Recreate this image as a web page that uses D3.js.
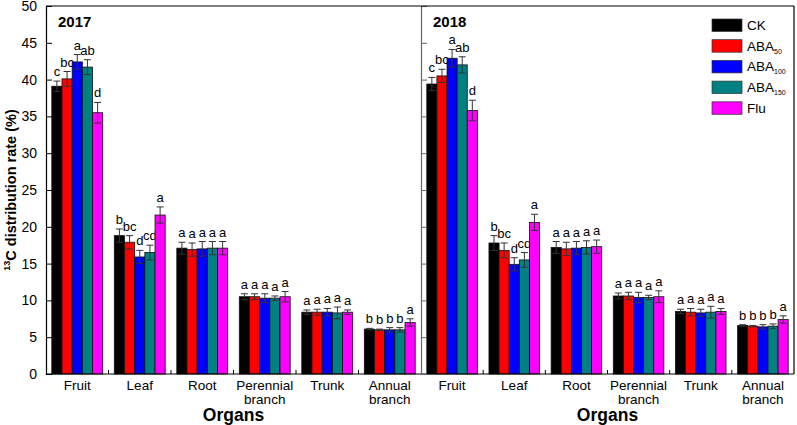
<!DOCTYPE html>
<html><head><meta charset="utf-8">
<script src="https://cdn.jsdelivr.net/npm/d3@7"></script>
<style>body{margin:0;background:#fff}svg{display:block;font-family:"Liberation Sans",Arial,sans-serif}</style>
</head><body><svg id="c" width="797" height="425"></svg>
<script>
const organs = ["Fruit","Leaf","Root","Perennial branch","Trunk","Annual branch"];
const treatments = ["CK","ABA50","ABA100","ABA150","Flu"];
const colors = ["#000000","#ff0000","#0000ff","#008080","#ff00ff"];
const yTicks = [0,5,10,15,20,25,30,35,40,45,50];
const years = ["2017","2018"];
// values [organ][treatment]
const v2017 = [[39.1,40.1,42.4,41.7,35.5],[18.8,17.9,15.9,16.5,21.6],[17.1,16.9,17.0,17.1,17.1],[10.5,10.5,10.3,10.3,10.5],[8.4,8.4,8.4,8.3,8.4],[6.1,6.0,6.0,6.0,7.0]];
const e2017 = [[0.7,1.0,1.0,1.0,1.4],[0.9,0.9,0.9,1.0,1.1],[0.8,0.9,1.0,0.9,0.9],[0.4,0.4,0.6,0.3,0.7],[0.3,0.4,0.5,0.8,0.3],[0.1,0.1,0.3,0.3,0.5]];
const l2017 = [["c","bc","a","ab","d"],["b","bc","d","cd","a"],["a","a","a","a","a"],["a","a","a","a","a"],["a","a","a","a","a"],["b","b","b","b","a"]];
const v2018 = [[39.4,40.5,42.9,42.0,35.8],[17.8,16.8,14.9,15.5,20.6],[17.2,17.0,17.1,17.2,17.3],[10.6,10.6,10.4,10.4,10.5],[8.5,8.4,8.3,8.4,8.5],[6.6,6.5,6.4,6.5,7.4]];
const e2018 = [[0.9,0.9,1.2,1.1,1.4],[1.0,1.0,0.9,1.0,1.1],[0.8,0.9,0.9,0.9,0.9],[0.4,0.5,0.7,0.3,0.8],[0.3,0.5,0.5,0.8,0.4],[0.1,0.1,0.3,0.3,0.5]];
const l2018 = [["c","bc","a","ab","d"],["b","bc","d","cd","a"],["a","a","a","a","a"],["a","a","a","a","a"],["a","a","a","a","a"],["b","b","b","b","a"]];

(function(){
const svg = d3.select("#c");
const yTop = 6, yBot = 374, xL = 46, xM = 421, xR = 794;
const y = d3.scaleLinear().domain([0,50]).range([yBot, yTop]);

const panels = [
  {year: years[0], vals: v2017, errs: e2017, lets: l2017, x0: xL, x1: xM},
  {year: years[1], vals: v2018, errs: e2018, lets: l2018, x0: xM, x1: xR}
];

panels.forEach((p) => {
  const xo = d3.scaleBand().domain(organs).range([p.x0, p.x1]).padding(0);
  const bw = xo.bandwidth();
  const xi = d3.scaleBand().domain(treatments).range([5.8, bw - 5.8]).padding(0);
  const g = svg.append("g");
  organs.forEach((o, oi) => {
    treatments.forEach((t, ti) => {
      const val = p.vals[oi][ti], err = p.errs[oi][ti];
      const x = xo(o) + xi(t), w = xi.bandwidth(), cx = x + w/2;
      g.append("rect").attr("x", x).attr("y", y(val)).attr("width", w).attr("height", y(0) - y(val))
        .attr("fill", colors[ti]).attr("stroke", "#111").attr("stroke-width", 0.8);
      g.append("line").attr("x1", cx).attr("x2", cx).attr("y1", y(val - err)).attr("y2", y(val + err))
        .attr("stroke", "#333").attr("stroke-width", 1);
      [val - err, val + err].forEach(vv => g.append("line").attr("x1", cx - 3.5).attr("x2", cx + 3.5)
        .attr("y1", y(vv)).attr("y2", y(vv)).attr("stroke", "#333").attr("stroke-width", 1));
      g.append("text").attr("x", cx).attr("y", y(val + err) - 5).attr("text-anchor", "middle")
        .attr("font-size", 13).attr("fill", "#000").text(p.lets[oi][ti]);
    });
    const words = o.split(" ");
    const tx = g.append("text").attr("x", xo(o) + bw/2).attr("y", 390).attr("text-anchor", "middle")
      .attr("font-size", 13.5).attr("fill", "#000");
    words.forEach((wd, wi) => tx.append("tspan").attr("x", xo(o) + bw/2).attr("dy", wi === 0 ? 0 : 13.5).text(wd));
  });
  const ax = svg.append("g").attr("transform", `translate(0,${yBot})`);
  ax.append("line").attr("x1", p.x0).attr("x2", p.x1).attr("y1", 0).attr("y2", 0).attr("stroke", "#000").attr("stroke-width", 1.2);
  organs.slice(1).forEach(o => ax.append("line").attr("x1", xo(o)).attr("x2", xo(o)).attr("y1", 0).attr("y2", -4).attr("stroke", "#000"));
  svg.append("text").attr("x", p.x0 + 12).attr("y", 27).attr("font-size", 15).attr("font-weight", "bold").text(p.year);
  svg.append("text").attr("x", (p.x0 + p.x1)/2).attr("y", 421).attr("text-anchor", "middle")
    .attr("font-size", 17.5).attr("font-weight", "bold").text("Organs");
});

const ya = d3.axisLeft(y).tickValues(yTicks).tickSize(-6).tickPadding(9);
const yg = svg.append("g").attr("transform", `translate(${xL},0)`).call(ya);
yg.select(".domain").attr("stroke", "#000").attr("stroke-width", 1.2);
yg.selectAll(".tick text").attr("font-size", 14).attr("font-family", '"Liberation Sans",Arial,sans-serif').attr("fill", "#000");
const ym = d3.axisRight(y).tickValues(yTicks).tickSize(6).tickFormat("");
const mg = svg.append("g").attr("transform", `translate(${xM},0)`).call(ym);
mg.select(".domain").attr("stroke", "#666").attr("stroke-width", 1.2);
mg.selectAll(".tick line").attr("stroke", "#666");
svg.append("line").attr("x1", xL).attr("x2", xR).attr("y1", yTop).attr("y2", yTop).attr("stroke", "#000").attr("stroke-width", 1.2);
svg.append("line").attr("x1", xR).attr("x2", xR).attr("y1", yTop).attr("y2", yBot).attr("stroke", "#000").attr("stroke-width", 1.2);

const yt = svg.append("text").attr("transform", `translate(16,${(yTop+yBot)/2}) rotate(-90)`)
  .attr("text-anchor", "middle").attr("font-size", 14.5).attr("font-weight", "bold");
yt.append("tspan").attr("font-size", 9).attr("dy", -6).text("13");
yt.append("tspan").attr("dy", 6).text("C distribution rate (%)");

const legend = svg.append("g");
const legLabels = [["CK",""],["ABA","50"],["ABA","100"],["ABA","150"],["Flu",""]];
legLabels.forEach((lb, i) => {
  const ly = 19 + i * 20.7;
  legend.append("rect").attr("x", 712).attr("y", ly).attr("width", 30).attr("height", 12.5)
    .attr("fill", colors[i]).attr("stroke", "#333").attr("stroke-width", 0.7);
  const t = legend.append("text").attr("x", 747).attr("y", ly + 11).attr("font-size", 13.5);
  t.append("tspan").text(lb[0]);
  if (lb[1]) t.append("tspan").attr("font-size", 7).attr("dy", 3).text(lb[1]);
});
})();
</script></body></html>
